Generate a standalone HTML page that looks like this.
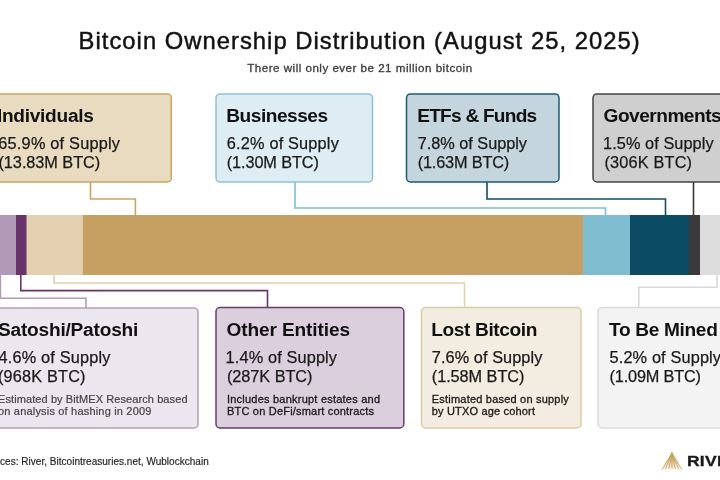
<!DOCTYPE html>
<html><head><meta charset="utf-8"><title>Bitcoin Ownership Distribution</title>
<style>
html,body{margin:0;padding:0;background:#fff;}
body{width:720px;height:480px;overflow:hidden;position:relative;font-family:"Liberation Sans",sans-serif;}
svg{position:absolute;left:0;top:0;display:block;}
text{font-family:"Liberation Sans",sans-serif;fill:#111;}
.h{font-weight:bold;font-size:19.1px;}
.v{font-size:16.3px;fill:#1a1a1a;stroke:#1a1a1a;stroke-width:.25px;}
.n{font-size:11px;fill:#181818;stroke:#181818;stroke-width:.3px;}
</style></head><body>
<svg width="720" height="480" viewBox="0 0 720 480">
<rect width="720" height="480" fill="#ffffff"/>
<!-- title -->
<text x="78.6" y="48.9" font-size="23.8" textLength="561" lengthAdjust="spacing" style="fill:#111;stroke:#111;stroke-width:.45px">Bitcoin Ownership Distribution (August 25, 2025)</text>
<text x="247.3" y="72.2" font-size="11.6" textLength="224.8" lengthAdjust="spacing" style="fill:#3a3a3a;stroke:#3a3a3a;stroke-width:.3px">There will only ever be 21 million bitcoin</text>

<!-- connectors top -->
<g fill="none" stroke-width="1.6">
<path d="M90.5 182V199H135.4V215" stroke="#c9a565"/>
<path d="M295 182V208H605.5V215" stroke="#7fbdd0"/>
<path d="M487 182V199H665.5V215" stroke="#0e4c66" stroke-width="1.6"/>
<path d="M693.5 182V215" stroke="#3a3a3a" stroke-width="1.6"/>
<!-- connectors bottom -->
<path d="M0.4 275V298.2H86V308" stroke="#b398b8"/>
<path d="M20.8 275V290.6H267.5V307" stroke="#67336a" stroke-width="1.6"/>
<path d="M54 275V283H464.5V307" stroke="#e3cfac"/>
<path d="M717 275V287.2H638.8V307" stroke="#d9d9d9"/>
</g>

<!-- bar -->
<rect x="0" y="215" width="16" height="60" fill="#b399b8"/>
<rect x="16" y="215" width="10.8" height="60" fill="#67336a"/>
<rect x="26.7" y="215" width="56.2" height="60" fill="#e3d1b1"/>
<rect x="82.8" y="215" width="500.3" height="60" fill="#c5a062"/>
<rect x="583" y="215" width="47" height="60" fill="#7fbdd0"/>
<rect x="630" y="215" width="59" height="60" fill="#0b4b64"/>
<rect x="689" y="215" width="11" height="60" fill="#3a3a3a"/>
<rect x="700" y="215" width="20" height="60" fill="#dcdcdc"/>

<!-- top boxes -->
<rect x="-20" y="93.9" width="191.3" height="88.1" rx="4" fill="#e9dbbf" stroke="#c9a565" stroke-width="1.5"/>
<rect x="216" y="93.9" width="156.5" height="88.1" rx="4" fill="#deedf3" stroke="#8cc3d4" stroke-width="1.5"/>
<rect x="406.5" y="93.9" width="152.5" height="88.1" rx="4" fill="#c5d5dd" stroke="#1d5b74" stroke-width="1.5"/>
<rect x="593" y="93.9" width="160" height="88.1" rx="4" fill="#cfcfcf" stroke="#444" stroke-width="1.5"/>

<!-- bottom boxes -->
<rect x="-20" y="308" width="218" height="120" rx="4" fill="#ece6ee" stroke="#b89fbc" stroke-width="1.5"/>
<rect x="216" y="307.5" width="187.8" height="120.5" rx="4" fill="#dccfdd" stroke="#6b3a70" stroke-width="1.5"/>
<rect x="421.5" y="307.5" width="159.5" height="120.5" rx="4" fill="#f3ece0" stroke="#e0c9a2" stroke-width="1.5"/>
<rect x="598" y="307.5" width="160" height="120.5" rx="4" fill="#f3f3f3" stroke="#dadada" stroke-width="1.5"/>

<!-- top text -->
<text class="h" x="93.9" y="122" text-anchor="end" textLength="97.0">Individuals</text>
<text class="v" x="120" y="149.2" text-anchor="end" textLength="121.7">65.9% of Supply</text>
<text class="v" x="100.2" y="168.2" text-anchor="end" textLength="101.7">(13.83M BTC)</text>

<text class="h" x="226.3" y="122" textLength="101.7">Businesses</text>
<text class="v" x="226.8" y="149.2" textLength="112">6.2% of Supply</text>
<text class="v" x="226.8" y="168.2" textLength="92">(1.30M BTC)</text>

<text class="h" x="417.2" y="122" textLength="120.0">ETFs &amp; Funds</text>
<text class="v" x="417.7" y="149.2" textLength="109.3">7.8% of Supply</text>
<text class="v" x="417.7" y="168.2" textLength="91.5">(1.63M BTC)</text>

<text class="h" x="603.6" y="122" textLength="118.0">Governments</text>
<text class="v" x="603" y="149.2" textLength="110.6">1.5% of Supply</text>
<text class="v" x="604.4" y="168.2" textLength="87.6">(306K BTC)</text>

<!-- bottom text -->
<text class="h" x="138.3" y="335.9" text-anchor="end" textLength="140.3">Satoshi/Patoshi</text>
<text class="v" x="110.5" y="363.1" text-anchor="end" textLength="112">4.6% of Supply</text>
<text class="v" x="85.5" y="381.9" text-anchor="end" textLength="87.5">(968K BTC)</text>
<text class="n" style="fill:#444;stroke:#444;stroke-width:.2px" x="187.5" y="402.8" text-anchor="end" textLength="189.5">Estimated by BitMEX Research based</text>
<text class="n" style="fill:#444;stroke:#444;stroke-width:.2px" x="151.4" y="414.7" text-anchor="end" textLength="153.4">on analysis of hashing in 2009</text>

<text class="h" x="226.5" y="335.9" textLength="123.5">Other Entities</text>
<text class="v" x="225.6" y="363.1" textLength="111.4">1.4% of Supply</text>
<text class="v" x="227" y="381.9" textLength="85.5">(287K BTC)</text>
<text class="n" x="227" y="402.8" textLength="153">Includes bankrupt estates and</text>
<text class="n" x="227" y="414.7" textLength="147">BTC on DeFi/smart contracts</text>

<text class="h" x="431.3" y="335.9" textLength="106.1">Lost Bitcoin</text>
<text class="v" x="431.8" y="363.1" textLength="110.5">7.6% of Supply</text>
<text class="v" x="431.8" y="381.9" textLength="92.6">(1.58M BTC)</text>
<text class="n" x="431.8" y="402.8" textLength="137">Estimated based on supply</text>
<text class="n" x="431.8" y="414.7" textLength="103.2">by UTXO age cohort</text>

<text class="h" x="609.0" y="335.9" textLength="108.8">To Be Mined</text>
<text class="v" x="609.5" y="363.1" textLength="111.5">5.2% of Supply</text>
<text class="v" x="609.5" y="381.9" textLength="91.5">(1.09M BTC)</text>

<!-- footer -->
<text x="208.7" y="464.8" text-anchor="end" font-size="10" textLength="229.8" style="fill:#222;stroke:#222;stroke-width:.15px">Sources: River, Bitcointreasuries.net, Wublockchain</text>

<!-- logo -->
<defs><linearGradient id="lg" x1="0" y1="0" x2="0" y2="1"><stop offset="0" stop-color="#c9a35e" stop-opacity=".9"/><stop offset=".5" stop-color="#c9a35e" stop-opacity=".55"/><stop offset="1" stop-color="#d2b175" stop-opacity=".05"/></linearGradient></defs>
<path d="M671.9 452.6L661.8 469.8H682Z" fill="url(#lg)"/>
<g stroke="#c59c52" stroke-width="0.8" fill="none" stroke-linecap="round">
<path d="M671.9 453L662 469.6M671.9 453L665.4 469M671.9 454L668.8 468.4M671.9 454L672 468.2M671.9 454L675.2 468.4M671.9 453L678.6 469M671.9 453L681.8 469.6"/>
</g>
<text transform="translate(686.9 466.2) scale(1.27 1)" x="0" y="0" font-size="13.8" font-weight="bold" letter-spacing="0.25" style="fill:#1a1a1a;stroke:#1a1a1a;stroke-width:.3px">RIVER</text>
</svg>
</body></html>
